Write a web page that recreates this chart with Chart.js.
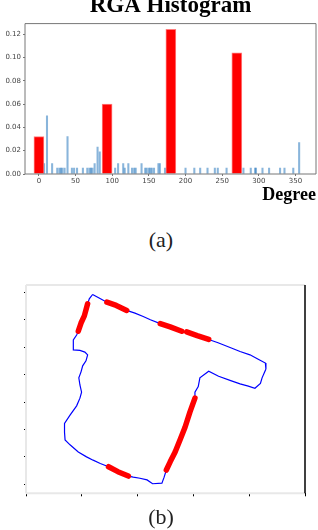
<!DOCTYPE html>
<html lang="en">
  <head>
    <meta charset="UTF-8" />
    <title>RGA Histogram</title>
    <script src="https://cdn.jsdelivr.net/npm/chart.js"></script>
    <style>
      body {
        margin: 0;
        background: #fff;
        width: 318px;
        height: 530px;
        overflow: hidden;
        position: relative;
        font-family: "Liberation Serif", serif;
      }
      #histWrap {
        position: absolute;
        left: 0;
        top: -8px;
        width: 318px;
        height: 215px;
      }
      #edgeWrap {
        position: absolute;
        left: 0;
        top: 270px;
        width: 318px;
        height: 240px;
      }
      .cap {
        position: absolute;
        left: 2px;
        width: 318px;
        text-align: center;
        font-size: 22px;
        line-height: 22px;
        color: #222;
      }
    </style>
  </head>
  <body>
    <div id="histWrap"><canvas id="histCanvas"></canvas></div>
    <div class="cap" style="top: 229px">(a)</div>
    <div id="edgeWrap"><canvas id="edgeCanvas"></canvas></div>
    <div class="cap" style="top: 506px">(b)</div>

    <script>
      // (a) histogram: dominant directions (red) and the rest (blue)
      const redDeg = [0, 93, 180, 270];
      const redFreq = [0.032, 0.06, 0.124, 0.104];

      const blueDeg = [
        7, 11, 18, 25, 28, 30, 32, 35, 39, 45, 48, 52, 60, 66, 69, 71, 73, 76,
        80, 83, 104, 108, 115, 117, 122, 127, 130, 132, 140, 145, 147, 150, 152,
        154, 157, 163, 165, 172, 200, 212, 220, 230, 240, 244, 256, 279, 289,
        295, 296, 305, 314, 329, 335, 347, 355,
      ];
      const blueFreq = [
        0.009, 0.05, 0.009, 0.005, 0.005, 0.005, 0.005, 0.005, 0.032, 0.005,
        0.005, 0.005, 0.005, 0.005, 0.005, 0.005, 0.005, 0.009, 0.023, 0.019,
        0.005, 0.009, 0.009, 0.005, 0.009, 0.005, 0.005, 0.005, 0.009, 0.005,
        0.005, 0.005, 0.005, 0.005, 0.005, 0.009, 0.009, 0.005, 0.005, 0.005,
        0.005, 0.005, 0.005, 0.005, 0.005, 0.005, 0.005, 0.005, 0.005, 0.005,
        0.005, 0.005, 0.005, 0.005, 0.027,
      ];

      const degTicks = [0, 50, 100, 150, 200, 250, 300, 350];
      const freqTicks = [0, 0.02, 0.04, 0.06, 0.08, 0.1, 0.12];

      // (b) outline of the shape, traced clockwise from the top corner
      const contourX = [
        155, 166, 181, 198, 217, 232, 247, 260, 278, 296, 317, 326, 345, 366,
        383, 406, 423, 441, 456, 469, 470, 463, 460, 450, 438, 423, 406, 384,
        366, 350, 347, 341, 341, 332, 323, 314, 305, 296, 289, 285, 281, 264,
        254, 241, 229, 220, 201, 184, 169, 156, 144, 129, 114, 105, 104, 104,
        114, 126, 132, 135, 132, 130, 134, 137, 143, 146, 141, 132, 120, 120,
        126, 129, 134, 140, 146, 149, 155,
      ];
      const contourY = [
        346, 340, 332, 326, 317, 312, 306, 300, 293, 287, 279, 278, 271, 264,
        258, 249, 242, 236, 228, 221, 210, 194, 184, 175, 179, 183, 189, 197,
        206, 194, 178, 168, 157, 132, 104, 81, 59, 41, 26, 13, 2, 1, 8, 11, 13,
        15, 23, 32, 38, 44, 50, 59, 72, 81, 95, 111, 126, 143, 157, 168, 181,
        194, 205, 216, 225, 236, 241, 244, 245, 263, 272, 279, 294, 307, 329,
        338, 346,
      ];
      // stretches of the outline picked as straight edges (index ranges)
      const edgeSpans = [
        [71, 74],
        [2, 4],
        [8, 10],
        [11, 13],
        [32, 38],
        [45, 47],
      ];

      const serif = '"Liberation Serif", "Times New Roman", serif';
      const sans = '"DejaVu Sans", sans-serif';

      const framePlugin = {
        id: "frame",
        afterDraw(chart, args, opts) {
          const { ctx } = chart;
          const { left, top, right, bottom } = chart.chartArea;
          const side = (color, x1, y1, x2, y2) => {
            ctx.beginPath();
            ctx.strokeStyle = color;
            ctx.moveTo(x1, y1);
            ctx.lineTo(x2, y2);
            ctx.stroke();
          };
          ctx.save();
          ctx.lineWidth = opts.width;
          side(opts.top, left, top, right, top);
          side(opts.left, left, top, left, bottom);
          side(opts.bottom, left, bottom, right, bottom);
          ctx.lineWidth = opts.rightWidth || opts.width;
          side(opts.right, right, top, right, bottom);
          ctx.restore();
        },
      };

      const histChart = new Chart(document.getElementById("histCanvas"), {
        type: "bar",
        data: {
          datasets: [
            {
              data: redDeg.map((d, i) => ({ x: d, y: redFreq[i] })),
              backgroundColor: "#ff0000",
              borderColor: "rgba(255, 110, 110, 0.9)",
              borderWidth: { left: 1, right: 1, top: 1, bottom: 0 },
              barThickness: 10,
              grouped: false,
              order: 0,
            },
            {
              data: blueDeg.map((d, i) => ({ x: d, y: blueFreq[i] })),
              backgroundColor: "rgba(40, 120, 190, 0.55)",
              barThickness: 1.4,
              grouped: false,
              order: 1,
            },
          ],
        },
        options: {
          responsive: true,
          maintainAspectRatio: false,
          animation: false,
          layout: { padding: { left: 0, right: 2, top: 0, bottom: 0 } },
          plugins: {
            legend: { display: false },
            tooltip: { enabled: false },
            title: {
              display: true,
              text: "RGA Histogram",
              fullSize: false,
              color: "#000",
              font: { family: serif, size: 23, weight: "bold", lineHeight: 1.2 },
              padding: { top: 0, bottom: 4 },
            },
            frame: { width: 1, top: "#777", left: "#777", bottom: "#777", right: "#777" },
          },
          scales: {
            x: {
              type: "linear",
              min: -19,
              max: 378,
              offset: false,
              afterBuildTicks: (s) => {
                s.ticks = degTicks.map((v) => ({ value: v }));
              },
              ticks: {
                color: "#444",
                font: { family: sans, size: 7 },
                padding: 1,
                maxRotation: 0,
              },
              grid: { offset: false, drawOnChartArea: false, tickLength: 2, color: "#777" },
              border: { display: false },
              title: {
                display: true,
                text: "Degree",
                align: "end",
                color: "#000",
                font: { family: serif, size: 18, weight: "bold", lineHeight: 1.2 },
                padding: { top: 0, bottom: 1 },
              },
              afterFit: (s) => {
                s.height = 33;
              },
            },
            y: {
              min: 0,
              max: 0.129,
              afterBuildTicks: (s) => {
                s.ticks = freqTicks.map((v) => ({ value: v }));
              },
              ticks: {
                color: "#444",
                font: { family: sans, size: 7 },
                padding: 2,
                callback: (v) => v.toFixed(2),
              },
              grid: { drawOnChartArea: false, tickLength: 2, color: "#777" },
              border: { display: false },
              afterFit: (s) => {
                s.width = 25;
              },
            },
          },
        },
        plugins: [framePlugin],
      });

      const outline = contourX.map((x, i) => ({ x: x, y: contourY[i] }));

      const edgeChart = new Chart(document.getElementById("edgeCanvas"), {
        type: "scatter",
        data: {
          datasets: [
            {
              data: outline,
              showLine: true,
              borderColor: "#0000ff",
              borderWidth: 1.2,
              pointRadius: 0,
              order: 1,
            },
          ].concat(
            edgeSpans.map(([a, b]) => ({
              data: outline.slice(a, b + 1),
              showLine: true,
              borderColor: "#ff0000",
              borderWidth: 5.5,
              borderCapStyle: "round",
              borderJoinStyle: "round",
              pointRadius: 0,
              order: 0,
            }))
          ),
        },
        options: {
          responsive: true,
          maintainAspectRatio: false,
          animation: false,
          layout: { padding: { left: 0, right: 13, top: 15, bottom: 0 } },
          plugins: {
            legend: { display: false },
            tooltip: { enabled: false },
            frame: {
              width: 2,
              top: "#e8e8e8",
              left: "#e8e8e8",
              bottom: "#e8e8e8",
              right: "#000",
              rightWidth: 1.5,
            },
          },
          scales: {
            x: {
              type: "linear",
              min: 34,
              max: 541,
              ticks: { display: false, stepSize: 100, includeBounds: false },
              grid: { drawOnChartArea: false, tickLength: 3, color: "#000" },
              border: { display: false },
              afterFit: (s) => {
                s.height = 16.7;
              },
            },
            y: {
              min: -16.4,
              max: 363.3,
              ticks: { display: false, stepSize: 50, includeBounds: false },
              grid: { drawOnChartArea: false, tickLength: 2, color: "#000" },
              border: { display: false },
              afterFit: (s) => {
                s.width = 26;
              },
            },
          },
        },
        plugins: [framePlugin],
      });
    </script>
  </body>
</html>
